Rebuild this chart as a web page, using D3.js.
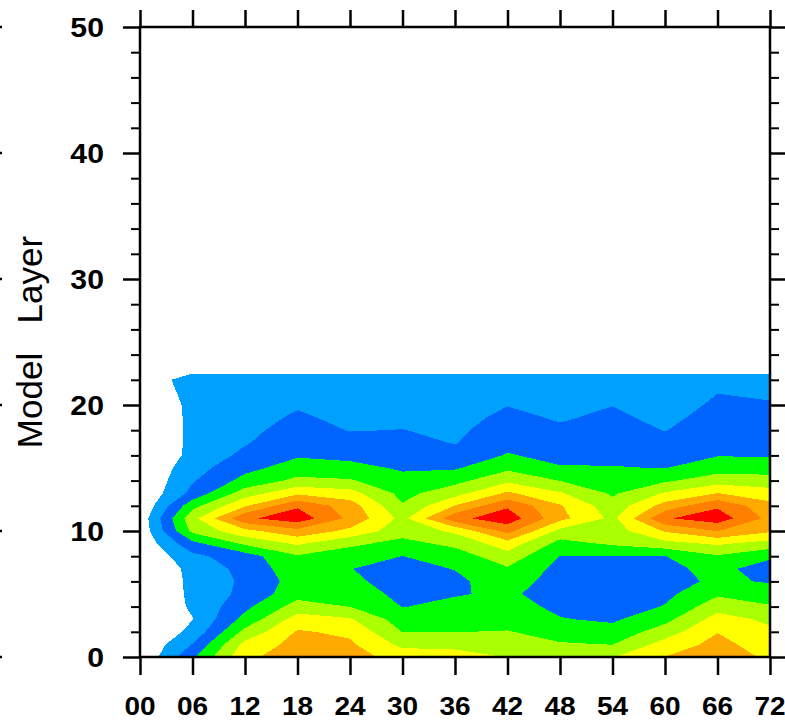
<!DOCTYPE html>
<html>
<head>
<meta charset="utf-8">
<script src="https://cdn.jsdelivr.net/npm/d3@7"></script>
<style>
  html, body { margin: 0; padding: 0; background: #ffffff; }
  svg { display: block; }
</style>
</head>
<body>
<svg id="chart" width="785" height="721"></svg>
<script>
// Forecast hours along x, model layers along y
const hours = [0, 6, 12, 18, 24, 30, 36, 42, 48, 54, 60, 66, 72];
const hourLabels = ["00", "06", "12", "18", "24", "30", "36", "42", "48", "54", "60", "66", "72"];
const layers = [0, 1, 2, 3, 4, 5, 6, 7, 8, 9, 10, 11, 12, 13, 14, 15, 16, 17, 18, 19, 20, 21, 22, 23];
const layerTicks = [0, 10, 20, 30, 40, 50];
const layerTickLabels = ["0", "10", "20", "30", "40", "50"];

// Contour levels and their fill colours
const levels = [1, 2, 3, 4, 5, 6, 7, 8];
const levelColors = ["#00a0ff", "#0064ff", "#00ff00", "#aaff00", "#ffff00", "#ffaa00", "#ff8000", "#ff0000"];

// Field profiles, one per forecast hour, layer 0 upward
const f00 = [0, 0, 0, 0, 0.3, 0.1, 0.1, 0.1, 0, 0.2, 0.25, 0.3, 0.05, 0, 0, 0, 0, 0, 0, 0, 0, 0, 0, 0];
const f06 = [2.85, 2.05, 1.25, 0.98, 1.1, 1.18, 1.2, 1.25, 1.75, 2.7, 4.25, 4.7, 3.65, 2.3, 1.9, 1.6, 1.26, 1.22, 1.21, 1.23, 1.26, 1.43, 1.67, 0.33];
const f12 = [5.75, 5.3, 4.3, 3.33, 2.75, 2.3, 2.2, 2.35, 2.55, 4.17, 5.7, 7.8, 5.9, 4.5, 3.33, 2.71, 2.25, 1.92, 1.75, 1.58, 1.42, 1.25, 1.08, 0.92];
const f18 = [6.6, 6.35, 6.1, 5.45, 4.45, 3.6, 3.4, 3.6, 3.9, 5.15, 6.7, 8.6, 7.85, 5.8, 4.25, 3.45, 2.9, 2.65, 2.4, 2.15, 1.9, 1.7, 1.5, 0.5];
const f24 = [6.4, 6.16, 5.8, 5.1, 3.98, 3.6, 3.2, 3.02, 3.5, 4.2, 5.75, 6.75, 6.5, 5.4, 4.1, 3.3, 2.75, 2.33, 1.96, 1.75, 1.53, 1.32, 1.1, 0.9];
const f30 = [5.6, 4.75, 3.97, 3.5, 2.97, 2.7, 2.6, 2.7, 2.99, 3.7, 4.4, 4.7, 4.1, 3.7, 3.3, 2.88, 2.63, 2.35, 2.02, 1.8, 1.6, 1.35, 1.1, 0.9];
const f36 = [5.3, 4.8, 3.98, 3.65, 3.25, 2.93, 2.8, 3.03, 3.5, 4.25, 5.2, 7.7, 6.05, 4.6, 3.7, 2.9, 2.4, 1.95, 1.8, 1.65, 1.5, 1.35, 1.15, 0.85];
const f42 = [4.98, 4.5, 4.05, 3.6, 3.35, 3.15, 3.5, 3.9, 4.6, 5.57, 7.33, 8.6, 7.85, 6.17, 4.78, 3.79, 3.07, 2.76, 2.5, 2.24, 1.97, 1.8, 1.4, 0.6];
const f48 = [4.4, 4.09, 3.6, 3.05, 2.8, 2.6, 2.55, 2.7, 2.99, 3.65, 4.7, 6.3, 6.1, 5.1, 3.98, 3.08, 2.73, 2.44, 2.15, 1.9, 1.7, 1.45, 1.2, 0.8];
const f54 = [4.95, 3.98, 3.35, 2.85, 2.5, 2.3, 2.3, 2.55, 2.95, 4.15, 4.5, 4.75, 4.4, 3.85, 3.45, 3.04, 2.81, 2.6, 2.4, 2.19, 1.98, 1.9, 1.5, 0.5];
const f60 = [6.02, 5.4, 4.5, 3.7, 3.06, 2.75, 2.6, 2.75, 2.98, 4.68, 6.1, 7.9, 6.4, 5.1, 3.85, 2.98, 2.68, 2.3, 1.97, 1.75, 1.52, 1.3, 1.12, 0.88];
const f66 = [6.6, 6.3, 5.97, 5.4, 4.6, 3.85, 3.2, 3.3, 3.9, 5.15, 7.02, 8.55, 7.85, 6.02, 4.55, 3.55, 2.95, 2.76, 2.57, 2.37, 2.18, 1.98, 1.5, 0.5];
const f72 = [5.8, 5.5, 5.2, 4.79, 4.07, 3.6, 2.9, 2.5, 3.2, 4.6, 6.15, 6.7, 6.3, 5.45, 4.4, 3.54, 2.94, 2.72, 2.51, 2.3, 2.08, 1.85, 1.5, 0.5];

const columns = [f00, f06, f12, f18, f24, f30, f36, f42, f48, f54, f60, f66, f72];

// Row-major grid for d3.contours (row = layer, column = hour)
const nx = hours.length, ny = layers.length;
const grid = new Array(nx * ny);
for (let j = 0; j < ny; j++) {
  for (let i = 0; i < nx; i++) grid[j * nx + i] = columns[i][j];
}

const svg = d3.select("#chart");
const plot = { left: 140, right: 770, top: 27, bottom: 657 };

const x = d3.scaleLinear().domain([0, 72]).range([plot.left, plot.right]);
const y = d3.scaleLinear().domain([0, 50]).range([plot.bottom, plot.top]);

// d3.contours puts sample (i, j) at grid point (i + 0.5, j + 0.5)
const dh = hours[1] - hours[0];
const dl = layers[1] - layers[0];
const toScreen = d3.geoTransform({
  point(gx, gy) {
    this.stream.point(x(hours[0] + (gx - 0.5) * dh), y(layers[0] + (gy - 0.5) * dl));
  }
});
const path = d3.geoPath(toScreen);

svg.append("defs").append("clipPath").attr("id", "plot-clip")
  .append("rect")
  .attr("x", plot.left).attr("y", plot.top)
  .attr("width", plot.right - plot.left).attr("height", plot.bottom - plot.top);

const bands = d3.contours().size([nx, ny]).thresholds(levels)(grid);

svg.append("g")
  .attr("clip-path", "url(#plot-clip)")
  .selectAll("path")
  .data(bands)
  .join("path")
  .attr("d", path)
  .attr("fill", (d, i) => levelColors[i])
  .attr("shape-rendering", "crispEdges");

// Tick marks (outward on all four sides)
const minorTicks = d3.range(0, 51, 2).filter(v => v % 10 !== 0);
const tickStyle = (g, w) => {
  g.select(".domain").remove();
  g.selectAll(".tick line").attr("stroke", "#000").attr("stroke-width", w);
};

svg.append("g").attr("transform", `translate(${plot.left},0)`)
  .call(d3.axisLeft(y).tickValues(minorTicks).tickSize(9).tickFormat(""))
  .call(g => tickStyle(g, 2));
svg.append("g").attr("transform", `translate(${plot.left},0)`)
  .call(d3.axisLeft(y).tickValues(layerTicks).tickSize(17).tickFormat(""))
  .call(g => tickStyle(g, 2.5));
svg.append("g").attr("transform", `translate(${plot.right},0)`)
  .call(d3.axisRight(y).tickValues(minorTicks).tickSize(9).tickFormat(""))
  .call(g => tickStyle(g, 2));
svg.append("g").attr("transform", `translate(${plot.right},0)`)
  .call(d3.axisRight(y).tickValues(layerTicks).tickSize(17).tickFormat(""))
  .call(g => tickStyle(g, 2.5));
svg.append("g").attr("transform", `translate(0,${plot.bottom})`)
  .call(d3.axisBottom(x).tickValues(hours).tickSize(18).tickFormat(""))
  .call(g => tickStyle(g, 2.5));
svg.append("g").attr("transform", `translate(0,${plot.top})`)
  .call(d3.axisTop(x).tickValues(hours).tickSize(17).tickFormat(""))
  .call(g => tickStyle(g, 2.5));

// Frame
svg.append("rect")
  .attr("x", plot.left).attr("y", plot.top)
  .attr("width", plot.right - plot.left).attr("height", plot.bottom - plot.top)
  .attr("fill", "none").attr("stroke", "#000").attr("stroke-width", 2.5);

// Tick labels
const labelFont = "'Liberation Sans', Arial, Helvetica, sans-serif";
svg.append("g").selectAll("g")
  .data(hours)
  .join("g")
  .attr("transform", d => `translate(${x(d)},715) scale(1.12,1)`)
  .append("text")
  .attr("text-anchor", "middle")
  .attr("font-family", labelFont)
  .attr("font-weight", "bold")
  .attr("font-size", 25)
  .attr("fill", "#000")
  .text((d, i) => hourLabels[i]);

svg.append("g").selectAll("g")
  .data(layerTicks)
  .join("g")
  .attr("transform", d => `translate(104,${y(d) + 10}) scale(1.12,1)`)
  .append("text")
  .attr("text-anchor", "end")
  .attr("font-family", labelFont)
  .attr("font-weight", "bold")
  .attr("font-size", 27)
  .attr("fill", "#000")
  .text((d, i) => layerTickLabels[i]);

// Axis title
svg.append("text")
  .attr("transform", `translate(42,${(plot.top + plot.bottom) / 2}) rotate(-90)`)
  .attr("text-anchor", "middle")
  .attr("font-family", labelFont)
  .attr("font-size", 35)
  .attr("fill", "#000")
  .style("white-space", "pre")
  .style("word-spacing", "5px")
  .text("Model  Layer");

// Small tick stubs along the left page edge
svg.append("g").selectAll("line")
  .data(layerTicks)
  .join("line")
  .attr("x1", 0).attr("x2", 2)
  .attr("y1", d => y(d)).attr("y2", d => y(d))
  .attr("stroke", "#000").attr("stroke-width", 2.5);
</script>
</body>
</html>
